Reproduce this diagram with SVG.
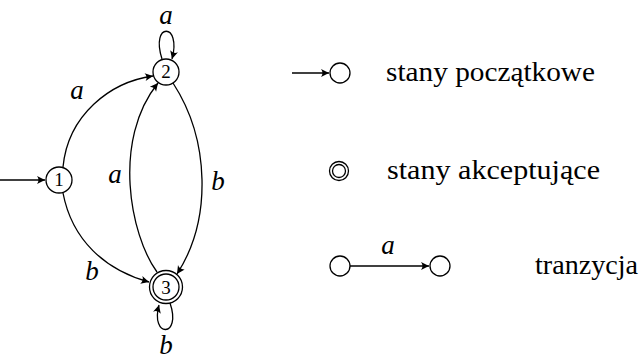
<svg xmlns="http://www.w3.org/2000/svg" width="642" height="360" viewBox="0 0 642 360">
<style>
.st{fill:#fff;stroke:#000;stroke-width:1.3}
.e{fill:none;stroke:#000;stroke-width:1.3;marker-end:url(#ah)}
.lbl{font-family:"Liberation Serif","DejaVu Serif",serif;font-style:italic;font-size:27px;text-anchor:middle;fill:#000}
.num{font-family:"Liberation Serif","DejaVu Serif",serif;font-size:19px;text-anchor:middle;fill:#000}
.txt{font-family:"Liberation Serif","DejaVu Serif",serif;font-size:28px;fill:#000}
</style>
<defs>
<marker id="ah" markerUnits="userSpaceOnUse" markerWidth="12" markerHeight="10" refX="0" refY="0" viewBox="-9 -5 10 10" orient="auto">
<path d="M0,0 L-8,-4 Q-5,0 -8,4 Z" fill="#000"/>
</marker>
</defs>
<g id="connectors">
<path class="e" d="M0,180 L45,180"/>
<path class="e" d="M63,167 C68,115 110,82 153,76"/>
<path class="e" d="M63,193 C72,240 105,270 149,282"/>
<path class="e" d="M157,272 C130,235 112,140 158,83"/>
<path class="e" d="M173,83 C210,140 212,220 177,274"/>
<path class="e" d="M162,59 C150,22 182,22 172,59"/>
<path class="e" d="M170,303 C182,338 150,338 159,305"/>
<text class="lbl" x="166" y="24">a</text>
<text class="lbl" x="77" y="99">a</text>
<text class="lbl" x="115" y="183">a</text>
<text class="lbl" x="218" y="190">b</text>
<text class="lbl" x="92" y="280">b</text>
<text class="lbl" x="166" y="354">b</text>
</g>
<g id="n1">
<circle class="st" cx="59" cy="180" r="13"/>
<text class="num" x="59" y="186">1</text>
</g>
<g id="n2">
<circle class="st" cx="166" cy="72" r="13"/>
<text class="num" x="166" y="78">2</text>
</g>
<g id="n3">
<circle class="st" cx="166" cy="287" r="16.5"/>
<circle class="st" cx="166" cy="287" r="13"/>
<text class="num" x="166" y="294">3</text>
</g>
<g id="legend-initial">
<path class="e" d="M292,73 L329,73"/>
<circle class="st" cx="340" cy="73" r="10"/>
<text class="txt" x="386" y="81" textLength="209" lengthAdjust="spacingAndGlyphs">stany początkowe</text>
</g>
<g id="legend-accept">
<circle class="st" cx="339" cy="171" r="9.5"/>
<circle class="st" cx="339" cy="171" r="6.5"/>
<text class="txt" x="387" y="179" textLength="213" lengthAdjust="spacingAndGlyphs">stany akceptujące</text>
</g>
<g id="legend-transition">
<circle class="st" cx="340" cy="266" r="10"/>
<path class="e" d="M350,266 L429,266"/>
<circle class="st" cx="440" cy="266" r="10"/>
<text class="lbl" x="388" y="254">a</text>
<text class="txt" x="535" y="274" textLength="103" lengthAdjust="spacingAndGlyphs">tranzycja</text>
</g>
</svg>
